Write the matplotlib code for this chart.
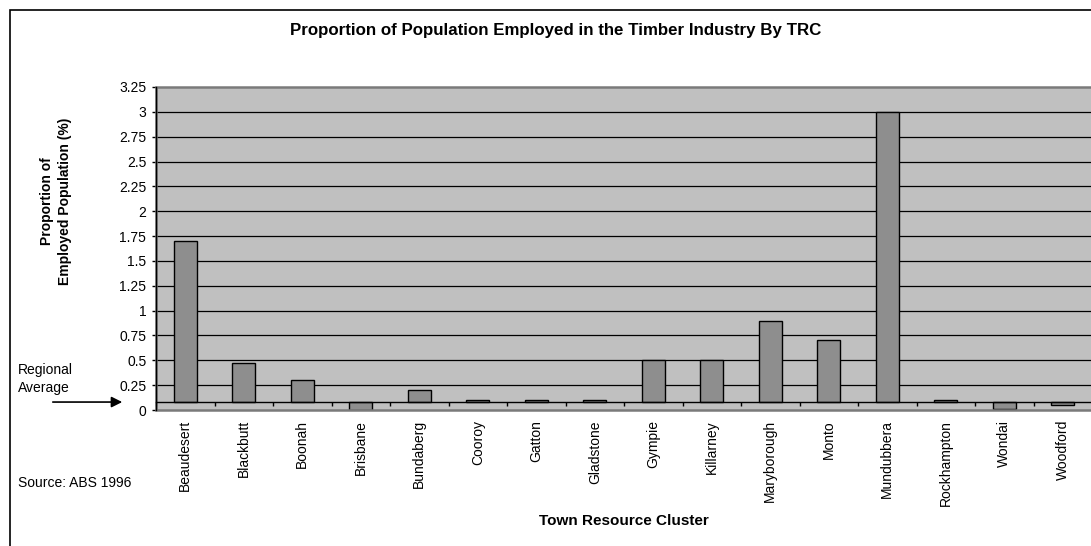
import matplotlib
matplotlib.use("Agg")
import matplotlib.pyplot as plt
from matplotlib.patches import Rectangle
import numpy as np

plt.rcParams['font.family'] = ['Liberation Sans', 'DejaVu Sans']

categories = ["Beaudesert", "Blackbutt", "Boonah", "Brisbane", "Bundaberg", "Cooroy",
              "Gatton", "Gladstone", "Gympie", "Killarney", "Maryborough", "Monto",
              "Mundubbera", "Rockhampton", "Wondai", "Woodford"]
values = [1.70, 0.47, 0.30, 0.00, 0.20, 0.105, 0.105, 0.105, 0.50, 0.50, 0.90, 0.70,
          3.00, 0.105, 0.01, 0.05]
regional_average = 0.08
ytick_values = [0, 0.25, 0.5, 0.75, 1, 1.25, 1.5, 1.75, 2, 2.25, 2.5, 2.75, 3, 3.25]
ytick_labels = ["0", "0.25", "0.5", "0.75", "1", "1.25", "1.5", "1.75", "2", "2.25",
                "2.5", "2.75", "3", "3.25"]

W, H = 1091, 546
fig = plt.figure(figsize=(W / 100, H / 100), dpi=100)
fig.patch.set_facecolor('white')

left, right, top, bottom = 156, 1092, 87, 410
ax = fig.add_axes([left / W, 1 - bottom / H, (right - left) / W, (bottom - top) / H])
ax.set_facecolor('#c0c0c0')

n = len(categories)
x = np.arange(n)
vals = np.array(values)
ax.bar(x, vals - regional_average, bottom=regional_average, width=0.4,
       color='#8e8e8e', edgecolor='black', linewidth=1.0, zorder=3)

ax.set_xlim(-0.5, n - 0.5)
ax.set_ylim(0, 3.25)

# gridlines
for v in ytick_values[1:-1]:
    ax.axhline(v, color='black', lw=0.9, zorder=1)

# plot area frame
ax.add_patch(Rectangle((0, 0), 1, 1, transform=ax.transAxes, fill=False,
                       ec='#7a7a7a', lw=1.8, zorder=4, clip_on=False))

for s in ['top', 'right']:
    ax.spines[s].set_visible(False)
ax.spines['left'].set_color('black')
ax.spines['left'].set_linewidth(1.0)
ax.spines['left'].set_zorder(5)
ax.spines['bottom'].set_position(('data', regional_average))
ax.spines['bottom'].set_color('black')
ax.spines['bottom'].set_linewidth(1.0)
ax.spines['bottom'].set_zorder(5)

ax.set_yticks(ytick_values)
ax.set_yticklabels(ytick_labels, fontsize=10)
ax.tick_params(axis='y', direction='out', length=3, width=1, pad=4)

ax.set_xticks(np.arange(n + 1) - 0.5)
ax.set_xticklabels([])
ax.tick_params(axis='x', which='major', direction='out', length=3, width=1)
ax.set_xticks(x, minor=True)
ax.set_xticklabels(categories, minor=True, rotation=90, fontsize=10)
ax.tick_params(axis='x', which='minor', length=0, pad=13)

fig.text(556 / W, 1 - 30 / H, "Proportion of Population Employed in the Timber Industry By TRC",
         ha='center', va='center', fontsize=12.2, fontweight='bold')

fig.text(56 / W, 1 - 201 / H, "Proportion of\nEmployed Population (%)", rotation=90,
         ha='center', va='center', fontsize=10, fontweight='bold', linespacing=1.3)

fig.text(18 / W, 1 - 379 / H, "Regional\nAverage", ha='left', va='center', fontsize=10,
         linespacing=1.35)

ax.annotate('', xy=(125 / W, regional_average), xytext=(50 / W, regional_average),
            xycoords=(fig.transFigure, ax.transData), textcoords=(fig.transFigure, ax.transData),
            arrowprops=dict(arrowstyle='-|>', color='black', lw=1.2, mutation_scale=16),
            annotation_clip=False)

fig.text(18 / W, 1 - 483 / H, "Source: ABS 1996", ha='left', va='center', fontsize=10)
fig.text(624 / W, 1 - 521 / H, "Town Resource Cluster", ha='center', va='center',
         fontsize=11, fontweight='bold')

fig.add_artist(Rectangle((10 / W, -0.1), 1.5, 1 - 10 / H + 0.1, transform=fig.transFigure,
                         fill=False, ec='black', lw=1.2))

fig.savefig('out.png', dpi=100)
